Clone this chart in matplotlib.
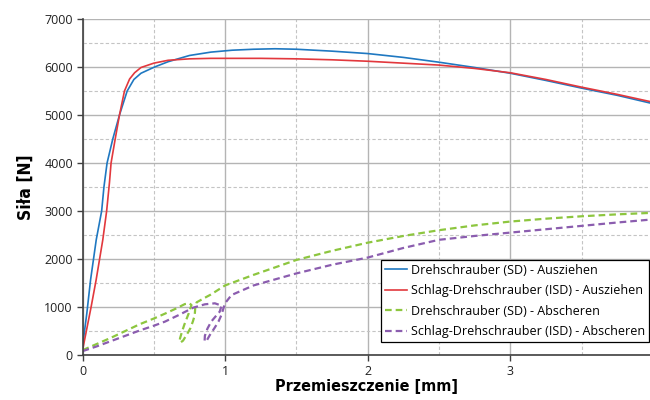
import matplotlib.pyplot as plt
from matplotlib.ticker import MultipleLocator

plt.rcParams['font.family'] = ['Open Sans', 'DejaVu Sans']
plt.rcParams['axes.unicode_minus'] = False

# Drehschrauber (SD) - Ausziehen
sd_pull_x = [0, 0.003, 0.03, 0.056, 0.096, 0.134, 0.15, 0.172, 0.212, 0.259, 0.313, 0.36, 0.41, 0.505,
             0.6, 0.75, 0.9, 1.05, 1.2, 1.35, 1.5, 1.75, 2.0, 2.25, 2.5, 2.75, 3.0, 3.25, 3.5, 3.75, 3.98]
sd_pull_y = [100, 250, 870, 1560, 2400, 3000, 3500, 4000, 4500, 5000, 5500, 5740, 5870, 6000,
             6110, 6240, 6310, 6350, 6370, 6380, 6370, 6330, 6280, 6200, 6100, 5990, 5870, 5720, 5560, 5410, 5250]

# Schlag-Drehschrauber (ISD) - Ausziehen
isd_pull_x = [0, 0.014, 0.06, 0.095, 0.142, 0.169, 0.189, 0.2, 0.229, 0.259, 0.294, 0.33, 0.365, 0.41,
              0.5, 0.6, 0.75, 0.9, 1.0, 1.25, 1.5, 1.75, 2.0, 2.25, 2.5, 2.75, 3.0, 3.25, 3.5, 3.75, 3.98]
isd_pull_y = [100, 310, 1000, 1560, 2400, 3000, 3600, 4000, 4500, 5000, 5500, 5750, 5880, 5990,
              6080, 6140, 6170, 6180, 6180, 6180, 6170, 6150, 6120, 6080, 6040, 5970, 5880, 5740, 5580, 5430, 5280]

# Drehschrauber (SD) - Abscheren
sd_shear_x = [0, 0.1, 0.2, 0.3, 0.4, 0.5, 0.577, 0.65, 0.717, 0.75, 0.764, 0.745, 0.728, 0.713, 0.697,
              0.684, 0.68, 0.688, 0.705, 0.732, 0.756, 0.774, 0.787, 0.79, 0.80, 0.85, 0.9, 1.0, 1.2, 1.5,
              1.75, 2.0, 2.25, 2.5, 2.75, 3.0, 3.25, 3.5, 3.75, 3.98]
sd_shear_y = [100, 230, 360, 500, 640, 760, 860, 960, 1060, 1077, 1040, 870, 740, 625, 480,
              350, 280, 262, 300, 430, 556, 700, 833, 972, 1097, 1180, 1260, 1450, 1670, 1980,
              2170, 2340, 2480, 2600, 2700, 2780, 2840, 2890, 2930, 2960]

# Schlag-Drehschrauber (ISD) - Abscheren
isd_shear_x = [0, 0.1, 0.2, 0.3, 0.4, 0.5, 0.577, 0.68, 0.776, 0.858, 0.928, 0.975, 0.962, 0.932,
               0.902, 0.876, 0.858, 0.856, 0.868, 0.893, 0.925, 0.953, 0.975, 0.988, 1.0, 1.045, 1.2, 1.5,
               1.75, 2.0, 2.25, 2.5, 2.75, 3.0, 3.25, 3.5, 3.75, 3.98]
isd_shear_y = [80, 180, 290, 400, 510, 610, 694, 840, 986, 1056, 1077, 1027, 903, 800,
               694, 550, 400, 290, 285, 417, 560, 694, 840, 972, 1080, 1250, 1450, 1700,
               1880, 2030, 2230, 2400, 2480, 2550, 2620, 2690, 2760, 2820]

labels = ["Drehschrauber (SD) - Ausziehen",
          "Schlag-Drehschrauber (ISD) - Ausziehen",
          "Drehschrauber (SD) - Abscheren",
          "Schlag-Drehschrauber (ISD) - Abscheren"]

fig = plt.figure(figsize=(6.5, 4), dpi=100)
ax = fig.add_axes([0.127, 0.1125, 0.873, 0.84])

ax.plot(sd_pull_x, sd_pull_y, color='#1F78C1', lw=1.2, label=labels[0])
ax.plot(isd_pull_x, isd_pull_y, color='#E2383D', lw=1.2, label=labels[1])
ax.plot(sd_shear_x, sd_shear_y, color='#8DC63F', lw=1.6, ls=(0, (3, 1.8)), label=labels[2])
ax.plot(isd_shear_x, isd_shear_y, color='#8B5DAF', lw=1.6, ls=(0, (3, 1.8)), label=labels[3])

ax.set_xlim(0, 3.98)
ax.set_ylim(0, 7000)
ax.xaxis.set_major_locator(MultipleLocator(1))
ax.xaxis.set_minor_locator(MultipleLocator(0.5))
ax.yaxis.set_major_locator(MultipleLocator(1000))
ax.yaxis.set_minor_locator(MultipleLocator(500))
ax.grid(True, which='major', color='#b4b4b4', lw=1.0, ls='-')
ax.grid(True, which='minor', color='#c4c4c4', lw=0.8, ls=(0, (3, 2)))
ax.set_axisbelow(True)

for s in ['top', 'right']:
    ax.spines[s].set_visible(False)
for s in ['left', 'bottom']:
    ax.spines[s].set_color('#404040')
    ax.spines[s].set_linewidth(1.2)

ax.tick_params(which='major', direction='out', length=4, width=1, color='#404040',
               labelsize=9, labelcolor='#222222', pad=3)
ax.tick_params(which='minor', length=0)

lab_font = dict(family=['DejaVu Sans'], stretch='condensed', weight='bold')
ax.set_xlabel("Przemieszczenie [mm]", labelpad=1, fontsize=11.5, **lab_font)
ax.set_ylabel("Siła [N]", labelpad=7, fontsize=12.5, **lab_font)

leg = ax.legend(loc='lower right', bbox_to_anchor=(1.0, 0.035), fontsize=9, frameon=True,
                fancybox=False, edgecolor='black', framealpha=1, handlelength=1.8,
                handletextpad=0.3, borderpad=0.3, labelspacing=0.6, borderaxespad=0.1)
leg.get_frame().set_linewidth(0.9)

plt.savefig("out.png", dpi=100)
